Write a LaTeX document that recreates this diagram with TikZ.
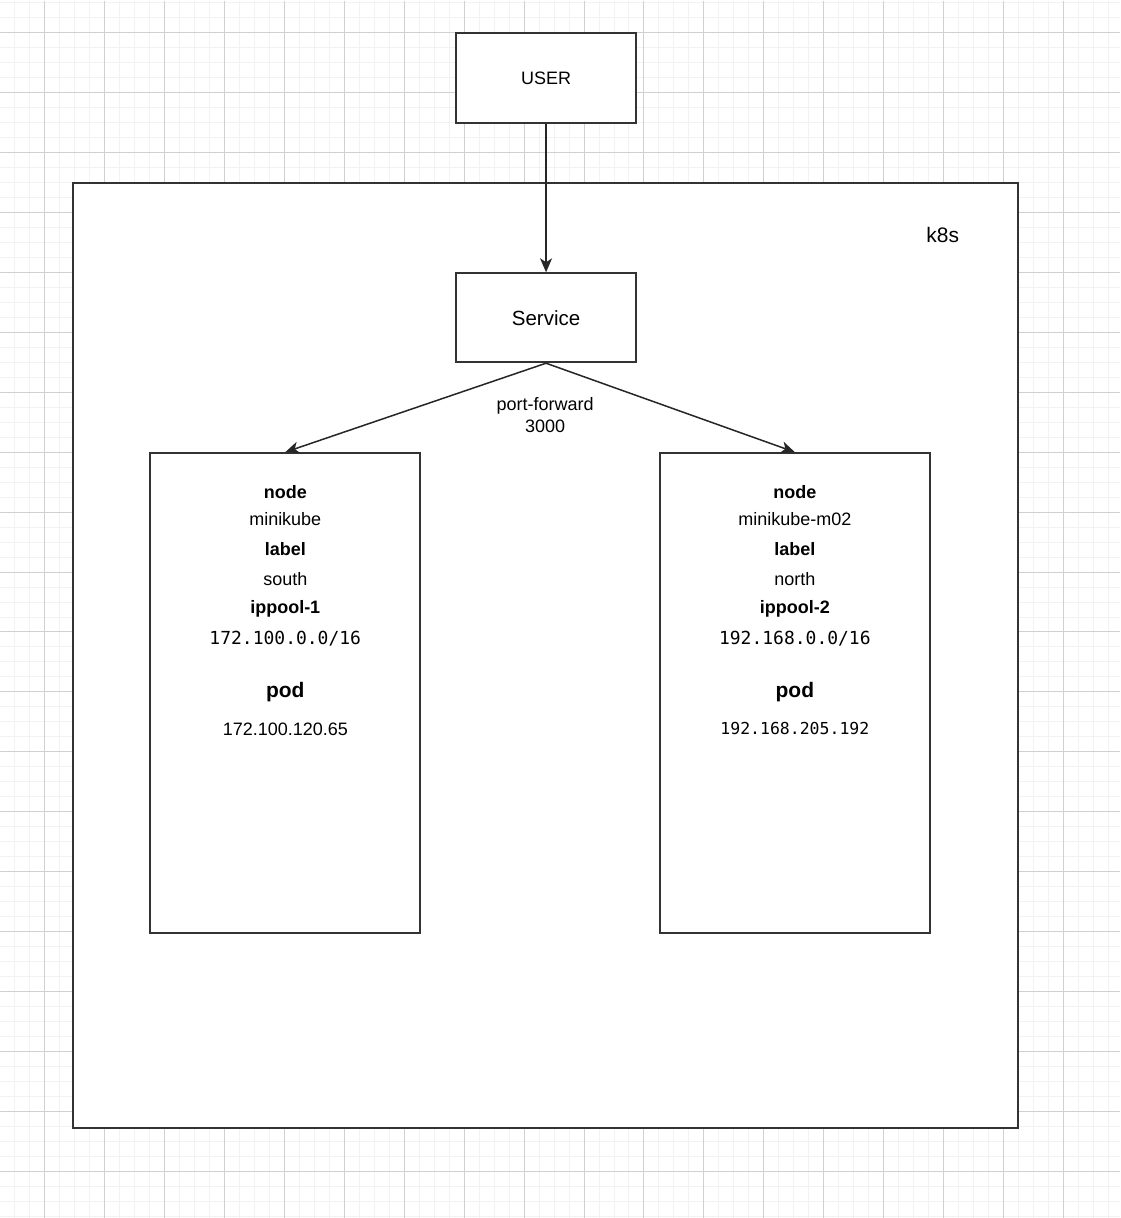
\documentclass[tikz,border=0pt]{standalone}
\usepackage{fontspec}
\setmainfont{Liberation Sans}
\newfontfamily\monofont{DejaVu Sans Mono}
\usetikzlibrary{arrows.meta}
\definecolor{gridminor}{RGB}{242,242,242}
\definecolor{gridmajor}{RGB}{208,208,208}
\definecolor{boxline}{RGB}{51,51,51}

\tikzset{
  box/.style={draw=boxline, line width=2pt, fill=white, inner sep=0pt},
  conn/.style={draw=black!85, line width=1.5pt, -{Stealth[length=14pt,width=12pt,inset=4pt]}},
  txt/.style={inner sep=0pt, font=\fontsize{18}{22}\selectfont},
  txtb/.style={inner sep=0pt, font=\fontsize{18}{22}\selectfont\bfseries},
  txtmono/.style={inner sep=0pt, font=\fontsize{18}{22}\selectfont\monofont},
}

\begin{document}
\begin{tikzpicture}[x=1pt,y=1pt,yscale=-1]
% background and grid
\fill[white] (0,0) rectangle (1120,1218);
\foreach \x in {14,29,...,1120} \draw[gridminor, line width=1pt] (\x,0) -- (\x,1218);
\foreach \y in {2,17,...,1218} \draw[gridminor, line width=1pt] (0,\y) -- (1120,\y);
\foreach \x in {44,104,...,1120} \draw[gridmajor, line width=1pt] (\x,0) -- (\x,1218);
\foreach \y in {32,92,...,1218} \draw[gridmajor, line width=1pt] (0,\y) -- (1120,\y);

% Cluster
\node[box, minimum width=945, minimum height=945] (k8s) at (545.5,655.5) {};
\node[txt, font=\fontsize{21}{24}\selectfont] (k8slabel) at (943,235) {k8s};

% User and Service
\node[box, minimum width=180, minimum height=90, font=\fontsize{18}{20}\selectfont] (user) at (546,78) {USER};
\node[box, minimum width=180, minimum height=89, font=\fontsize{20.5}{24}\selectfont] (service) at (546,317.5) {Service};

% Node boxes
\node[box, minimum width=270, minimum height=480] (south) at (285,693) {};
\node[box, minimum width=270, minimum height=480] (north) at (795,693) {};

% Connectors
\draw[conn] (user.south) -- (service.north);
\draw[conn] (service.south) -- (south.north);
\draw[conn] (service.south) -- (north.north);
\node[txt, align=center] (pf) at (545,415) {port-forward\\3000};

% Text Node (left)
\node[txtb] (snode) at (285,492) {node};
\node[txt] (sname) at (285,519) {minikube};
\node[txtb] (slabel) at (285,549) {label};
\node[txt] (slabelv) at (285,579) {south};
\node[txtb] (spool) at (285,609) {ippool-1};
\node[txtmono] (scidr) at (285,639) {172.100.0.0/16};
\node[txtb, font=\fontsize{21}{24}\selectfont\bfseries] (spod) at (285,692) {pod};
\node[txt] (sip) at (285,729) {172.100.120.65};

% Text Node (right)
\node[txtb] (nnode) at (795,492) {node};
\node[txt] (nname) at (795,519) {minikube-m02};
\node[txtb] (nlabel) at (795,549) {label};
\node[txt] (nlabelv) at (795,579) {north};
\node[txtb] (npool) at (795,609) {ippool-2};
\node[txtmono] (ncidr) at (795,639) {192.168.0.0/16};
\node[txtb, font=\fontsize{21}{24}\selectfont\bfseries] (npod) at (795,692) {pod};
\node[txtmono, font=\fontsize{16.5}{20}\selectfont\monofont] (nip) at (795,729) {192.168.205.192};

\end{tikzpicture}
\end{document}
